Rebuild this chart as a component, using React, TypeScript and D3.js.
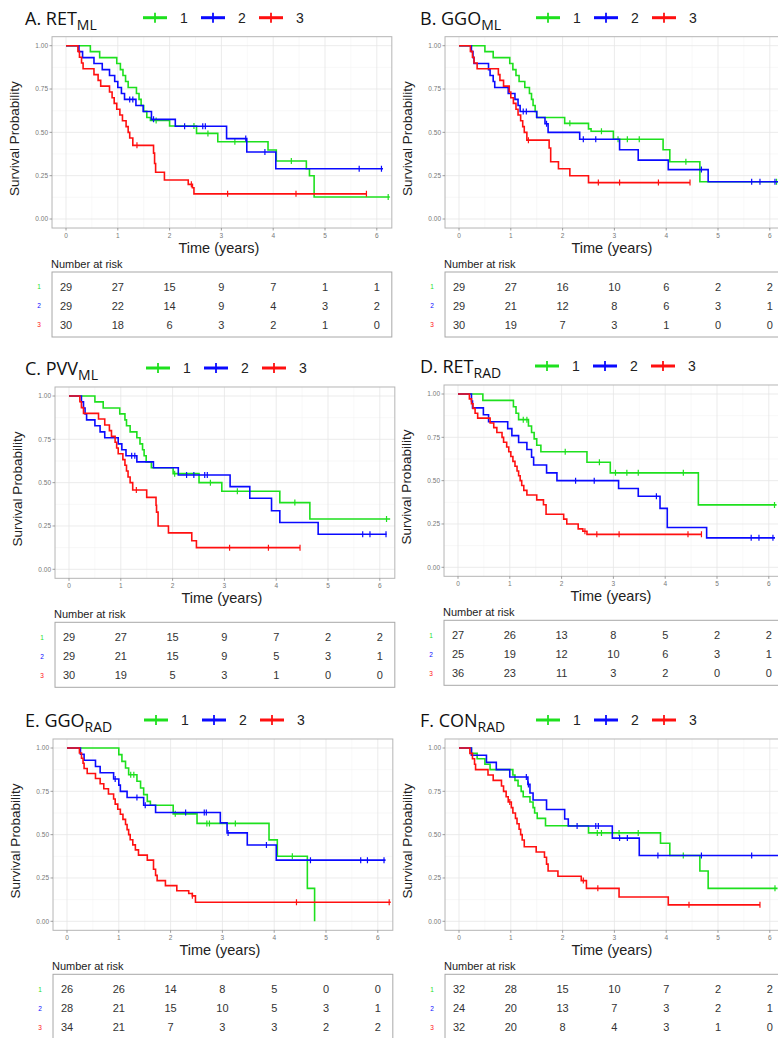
import * as d3 from 'd3';

type Step = [number, number];

const groupLabels = ['1', '2', '3'];
const groupColors = ['#1ee01e', '#0a0aff', '#ff1010'];
const timeTicks = [0, 1, 2, 3, 4, 5, 6];
const survTicks = [0, 0.25, 0.5, 0.75, 1];
const survTickLabels = ['0.00', '0.25', '0.50', '0.75', '1.00'];

const panelTitles = ['A. RET', 'B. GGO', 'C. PVV', 'D. RET', 'E. GGO', 'F. CON'];
const panelSubs = ['ML', 'ML', 'ML', 'RAD', 'RAD', 'RAD'];

// A. RET (ML)
const retMlSteps: Step[][] = [
  [[0, 1], [0.47, 0.966], [0.65, 0.931], [0.98, 0.897], [1.05, 0.862], [1.1, 0.828], [1.15, 0.793], [1.2, 0.759], [1.36, 0.724], [1.41, 0.69], [1.45, 0.655], [1.5, 0.621], [1.56, 0.586], [1.63, 0.569], [2.0, 0.537], [2.52, 0.494], [2.93, 0.446], [3.9, 0.398], [4.06, 0.335], [4.64, 0.29], [4.7, 0.25], [4.79, 0.127]],
  [[0, 1], [0.25, 0.966], [0.32, 0.931], [0.54, 0.897], [0.7, 0.862], [0.84, 0.828], [0.94, 0.793], [1.0, 0.759], [1.07, 0.724], [1.13, 0.69], [1.35, 0.655], [1.49, 0.62], [1.65, 0.575], [2.11, 0.535], [3.1, 0.464], [3.49, 0.387], [4.05, 0.29]],
  [[0, 1], [0.23, 0.967], [0.26, 0.933], [0.3, 0.9], [0.33, 0.867], [0.54, 0.833], [0.62, 0.8], [0.67, 0.767], [0.84, 0.733], [0.89, 0.7], [0.93, 0.667], [0.98, 0.633], [1.04, 0.6], [1.09, 0.567], [1.16, 0.533], [1.2, 0.5], [1.23, 0.467], [1.29, 0.425], [1.69, 0.38], [1.71, 0.32], [1.73, 0.27], [1.9, 0.225], [2.36, 0.2], [2.44, 0.18], [2.47, 0.145]],
];
const retMlCensor = [
  [1.74, 2.47, 2.74, 3.26, 4.35, 6.22],
  [1.23, 1.29, 1.69, 2.29, 2.64, 2.69, 3.47, 3.84, 5.66, 6.09],
  [1.37, 2.42, 3.12, 4.44, 5.8],
];
const retMlEnd = [6.25, 6.12, 5.8];
const retMlRisk = [[29, 27, 15, 9, 7, 1, 1], [29, 22, 14, 9, 4, 3, 2], [30, 18, 6, 3, 2, 1, 0]];

// B. GGO (ML)
const ggoMlSteps: Step[][] = [
  [[0, 1], [0.5, 0.966], [0.66, 0.931], [0.98, 0.897], [1.04, 0.862], [1.1, 0.828], [1.16, 0.793], [1.27, 0.759], [1.36, 0.724], [1.4, 0.69], [1.43, 0.655], [1.47, 0.62], [1.5, 0.586], [2.04, 0.552], [2.5, 0.52], [2.55, 0.506], [2.98, 0.46], [3.94, 0.4], [4.07, 0.33], [4.65, 0.215]],
  [[0, 1], [0.24, 0.966], [0.27, 0.931], [0.29, 0.897], [0.57, 0.862], [0.6, 0.828], [0.66, 0.793], [0.69, 0.759], [0.95, 0.724], [1.08, 0.69], [1.14, 0.655], [1.18, 0.62], [1.5, 0.586], [1.66, 0.55], [1.72, 0.5], [2.33, 0.46], [3.1, 0.4], [3.46, 0.34], [4.04, 0.285], [4.81, 0.215]],
  [[0, 1], [0.22, 0.967], [0.26, 0.933], [0.29, 0.9], [0.35, 0.867], [0.76, 0.833], [0.79, 0.8], [0.86, 0.767], [0.97, 0.733], [1.0, 0.7], [1.05, 0.667], [1.1, 0.633], [1.14, 0.6], [1.19, 0.567], [1.23, 0.533], [1.26, 0.5], [1.31, 0.455], [1.74, 0.41], [1.77, 0.33], [1.92, 0.29], [2.14, 0.25], [2.5, 0.21]],
];
const ggoMlCensor = [
  [2.14, 2.75, 3.07, 3.25, 3.48, 4.38, 6.13],
  [1.24, 1.3, 1.69, 2.4, 2.64, 4.68, 5.65, 5.81, 6.1],
  [1.34, 2.69, 3.1, 3.85, 4.46],
];
const ggoMlEnd = [6.16, 6.16, 4.46];
const ggoMlRisk = [[29, 27, 16, 10, 6, 2, 2], [29, 21, 12, 8, 6, 3, 1], [30, 19, 7, 3, 1, 0, 0]];

// C. PVV (ML)
const pvvMlSteps: Step[][] = [
  [[0, 1], [0.5, 0.966], [0.66, 0.931], [0.98, 0.897], [1.08, 0.862], [1.11, 0.828], [1.18, 0.793], [1.31, 0.759], [1.37, 0.724], [1.42, 0.69], [1.45, 0.655], [1.49, 0.62], [1.59, 0.586], [2.01, 0.552], [2.51, 0.5], [2.95, 0.45], [4.07, 0.385], [4.65, 0.29]],
  [[0, 1], [0.24, 0.966], [0.28, 0.931], [0.31, 0.897], [0.34, 0.862], [0.5, 0.828], [0.6, 0.793], [0.69, 0.759], [0.95, 0.724], [1.02, 0.69], [1.1, 0.655], [1.31, 0.62], [1.63, 0.586], [2.11, 0.544], [3.11, 0.477], [3.49, 0.41], [3.91, 0.338], [4.07, 0.27], [4.81, 0.202]],
  [[0, 1], [0.21, 0.967], [0.24, 0.933], [0.28, 0.9], [0.57, 0.867], [0.69, 0.833], [0.78, 0.8], [0.82, 0.767], [0.89, 0.733], [0.92, 0.7], [0.95, 0.667], [1.04, 0.633], [1.08, 0.6], [1.11, 0.567], [1.14, 0.533], [1.18, 0.5], [1.23, 0.458], [1.5, 0.415], [1.68, 0.37], [1.69, 0.33], [1.72, 0.25], [1.92, 0.21], [2.37, 0.165], [2.46, 0.125]],
];
const pvvMlCensor = [
  [2.04, 2.73, 3.25, 4.36, 6.13],
  [1.21, 1.27, 2.27, 2.41, 2.62, 2.67, 5.67, 5.81, 6.12],
  [1.3, 3.1, 3.85, 4.46],
];
const pvvMlEnd = [6.2, 6.13, 4.46];
const pvvMlRisk = [[29, 27, 15, 9, 7, 2, 2], [29, 21, 15, 9, 5, 3, 1], [30, 19, 5, 3, 1, 0, 0]];

// D. RET (RAD)
const retRadSteps: Step[][] = [
  [[0, 1], [0.48, 0.963], [1.07, 0.926], [1.12, 0.889], [1.17, 0.852], [1.36, 0.815], [1.42, 0.778], [1.47, 0.741], [1.52, 0.704], [1.6, 0.667], [2.49, 0.606], [2.94, 0.545], [4.64, 0.36]],
  [[0, 1], [0.26, 0.96], [0.28, 0.92], [0.49, 0.88], [0.59, 0.84], [0.96, 0.8], [1.04, 0.76], [1.17, 0.72], [1.33, 0.68], [1.42, 0.635], [1.46, 0.59], [1.71, 0.545], [1.91, 0.5], [3.1, 0.455], [3.48, 0.41], [3.9, 0.34], [4.04, 0.23], [4.8, 0.17]],
  [[0, 1], [0.22, 0.972], [0.26, 0.944], [0.29, 0.917], [0.33, 0.889], [0.38, 0.861], [0.62, 0.833], [0.69, 0.806], [0.75, 0.778], [0.85, 0.75], [0.88, 0.722], [0.94, 0.694], [0.98, 0.667], [1.02, 0.639], [1.06, 0.611], [1.1, 0.583], [1.14, 0.556], [1.17, 0.528], [1.2, 0.5], [1.23, 0.472], [1.27, 0.444], [1.33, 0.417], [1.52, 0.389], [1.65, 0.361], [1.7, 0.306], [2.04, 0.278], [2.1, 0.25], [2.32, 0.222], [2.41, 0.208], [2.49, 0.19]],
];
const retRadCensor = [
  [1.26, 1.33, 2.07, 2.73, 3.04, 3.26, 3.48, 4.35, 6.11],
  [2.27, 2.63, 3.83, 5.66, 5.81, 6.08],
  [2.45, 2.68, 3.11, 4.44, 4.7],
];
const retRadEnd = [6.15, 6.12, 4.7];
const retRadRisk = [[27, 26, 13, 8, 5, 2, 2], [25, 19, 12, 10, 6, 3, 1], [36, 23, 11, 3, 2, 0, 0]];

// E. GGO (RAD)
const ggoRadSteps: Step[][] = [
  [[0, 1], [1.0, 0.962], [1.06, 0.923], [1.13, 0.885], [1.19, 0.846], [1.35, 0.808], [1.42, 0.769], [1.48, 0.731], [1.55, 0.692], [1.61, 0.67], [2.05, 0.62], [2.51, 0.565], [3.9, 0.47], [4.06, 0.375], [4.64, 0.19], [4.78, 0]],
  [[0, 1], [0.26, 0.964], [0.33, 0.929], [0.55, 0.893], [0.64, 0.857], [0.9, 0.821], [1.0, 0.786], [1.03, 0.75], [1.16, 0.714], [1.48, 0.67], [1.71, 0.628], [2.96, 0.568], [3.09, 0.51], [3.48, 0.44], [4.04, 0.353]],
  [[0, 1], [0.24, 0.971], [0.28, 0.941], [0.31, 0.912], [0.33, 0.882], [0.39, 0.853], [0.55, 0.824], [0.64, 0.794], [0.71, 0.765], [0.8, 0.735], [0.9, 0.706], [0.93, 0.676], [0.98, 0.647], [1.03, 0.618], [1.08, 0.588], [1.13, 0.559], [1.16, 0.529], [1.19, 0.5], [1.22, 0.471], [1.27, 0.441], [1.32, 0.412], [1.38, 0.382], [1.55, 0.353], [1.67, 0.3], [1.71, 0.265], [1.74, 0.235], [1.9, 0.206], [2.12, 0.176], [2.35, 0.16], [2.42, 0.147], [2.48, 0.11]],
];
const ggoRadCensor = [
  [1.23, 1.29, 2.09, 2.7, 2.75, 3.25, 4.35],
  [0.93, 1.35, 1.51, 2.29, 2.65, 2.69, 3.11, 3.85, 4.7, 5.67, 5.8, 6.12],
  [2.42, 4.43, 6.22],
];
const ggoRadEnd = [4.78, 6.15, 6.25];
const ggoRadRisk = [[26, 26, 14, 8, 5, 0, 0], [28, 21, 15, 10, 5, 3, 1], [34, 21, 7, 3, 3, 2, 2]];

// F. CON (RAD)
const conRadSteps: Step[][] = [
  [[0, 1], [0.24, 0.969], [0.35, 0.938], [0.5, 0.906], [0.6, 0.875], [1.04, 0.844], [1.08, 0.813], [1.14, 0.781], [1.2, 0.75], [1.24, 0.719], [1.37, 0.688], [1.43, 0.656], [1.46, 0.625], [1.51, 0.594], [1.67, 0.551], [2.5, 0.51], [3.89, 0.45], [4.07, 0.38], [4.65, 0.29], [4.81, 0.19]],
  [[0, 1], [0.24, 0.958], [0.53, 0.917], [0.72, 0.875], [0.98, 0.833], [1.33, 0.79], [1.37, 0.74], [1.43, 0.7], [1.69, 0.645], [2.04, 0.59], [2.11, 0.55], [2.96, 0.48], [3.48, 0.38]],
  [[0, 1], [0.21, 0.969], [0.26, 0.938], [0.3, 0.906], [0.32, 0.875], [0.56, 0.844], [0.66, 0.813], [0.82, 0.781], [0.86, 0.75], [0.91, 0.719], [0.95, 0.688], [1.01, 0.656], [1.04, 0.625], [1.09, 0.594], [1.12, 0.563], [1.16, 0.531], [1.19, 0.5], [1.22, 0.469], [1.26, 0.43], [1.49, 0.4], [1.65, 0.37], [1.69, 0.33], [1.72, 0.29], [1.91, 0.26], [2.36, 0.235], [2.46, 0.19], [3.09, 0.14], [4.04, 0.095]],
];
const conRadCensor = [
  [2.67, 2.75, 3.09, 3.46, 4.33, 6.1],
  [1.3, 1.34, 2.28, 2.64, 2.69, 3.1, 3.25, 3.84, 4.68, 5.65],
  [0.98, 2.4, 2.68, 4.44, 5.81],
];
const conRadEnd = [6.15, 6.2, 5.81];
const conRadRisk = [[32, 28, 15, 10, 7, 2, 2], [24, 20, 13, 7, 3, 2, 1], [32, 20, 8, 4, 3, 1, 0]];

const panelSteps = [retMlSteps, ggoMlSteps, pvvMlSteps, retRadSteps, ggoRadSteps, conRadSteps];
const panelCensor = [retMlCensor, ggoMlCensor, pvvMlCensor, retRadCensor, ggoRadCensor, conRadCensor];
const panelEnd = [retMlEnd, ggoMlEnd, pvvMlEnd, retRadEnd, ggoRadEnd, conRadEnd];
const panelRisk = [retMlRisk, ggoMlRisk, pvvMlRisk, retRadRisk, ggoRadRisk, conRadRisk];

// pixel position of t=0 and of S=1 for each panel
const panelX0 = [66, 459, 69, 458, 67, 459];
const panelY1 = [45.7, 45.7, 396, 394, 748, 748];

const YEAR = 51.8;
const PLOT_H = 173.3;
const sans = '"Liberation Sans", Arial, sans-serif';

function survivalAt(steps: Step[], t: number) {
  let s = 1;
  for (const st of steps) if (st[0] <= t) s = st[1];
  return s;
}

function Panel({ i }: { i: number }) {
  const x0 = panelX0[i];
  const y1 = panelY1[i];
  const x = d3.scaleLinear().domain([0, 6]).range([x0, x0 + 6 * YEAR]);
  const y = d3.scaleLinear().domain([0, 1]).range([y1 + PLOT_H, y1]);
  const left = x(-0.27);
  const right = x(6.29);
  const top = y(1.052);
  const bottom = y(-0.052);
  const yZero = y(0);
  const minorX = d3.range(0.5, 6.3, 1);
  const minorY = [0.125, 0.375, 0.625, 0.875];
  const line = d3
    .line<Step>()
    .x((d) => x(d[0]))
    .y((d) => y(d[1]))
    .curve(d3.curveStepAfter);
  const clipId = `clip-${i}`;
  const legX = x0 + 77;

  return (
    <g>
      <defs>
        <clipPath id={clipId}>
          <rect x={left} y={top} width={right - left} height={bottom - top} />
        </clipPath>
      </defs>

      {/* title */}
      <text x={i % 2 === 0 ? 25 : 420} y={y1 - 21} fontFamily='"Open Sans", sans-serif' fontSize={18} fill="#111">
        {panelTitles[i]}
        <tspan fontSize={14} dy={5}>{panelSubs[i]}</tspan>
      </text>

      {/* legend */}
      {groupLabels.map((g, k) => {
        const sx = legX + k * 58;
        const ly = y1 - 28;
        return (
          <g key={g}>
            <line x1={sx} x2={sx + 24} y1={ly} y2={ly} stroke={groupColors[k]} strokeWidth={3} />
            <line x1={sx + 12} x2={sx + 12} y1={ly - 5} y2={ly + 5} stroke={groupColors[k]} strokeWidth={1.8} />
            <text x={sx + 37} y={ly + 5} fontFamily={sans} fontSize={14} fill="#222">{g}</text>
          </g>
        );
      })}

      {/* grid */}
      <rect x={left} y={top} width={right - left} height={bottom - top} fill="#fff" />
      {minorX.map((t) => (
        <line key={'mx' + t} x1={x(t)} x2={x(t)} y1={top} y2={bottom} stroke="#f3f3f3" strokeWidth={0.6} />
      ))}
      {minorY.map((s) => (
        <line key={'my' + s} x1={left} x2={right} y1={y(s)} y2={y(s)} stroke="#f3f3f3" strokeWidth={0.6} />
      ))}
      {timeTicks.map((t) => (
        <line key={'gx' + t} x1={x(t)} x2={x(t)} y1={top} y2={bottom} stroke="#e6e6e6" strokeWidth={0.8} />
      ))}
      {survTicks.map((s) => (
        <line key={'gy' + s} x1={left} x2={right} y1={y(s)} y2={y(s)} stroke="#e6e6e6" strokeWidth={0.8} />
      ))}

      {/* curves */}
      <g clipPath={`url(#${clipId})`}>
        {panelSteps[i].map((steps, k) => {
          const pts: Step[] = [...steps, [panelEnd[i][k], steps[steps.length - 1][1]]];
          return (
            <g key={k}>
              <path d={line(pts) || ''} fill="none" stroke={groupColors[k]} strokeWidth={1.6} />
              {panelCensor[i][k].map((t, m) => {
                const cy = y(survivalAt(steps, t));
                return (
                  <line key={m} x1={x(t)} x2={x(t)} y1={cy - 3} y2={cy + 3} stroke={groupColors[k]} strokeWidth={1.2} />
                );
              })}
            </g>
          );
        })}
      </g>

      <rect x={left} y={top} width={right - left} height={bottom - top} fill="none" stroke="#b5b5b5" strokeWidth={1} />

      {/* axes */}
      {survTicks.map((s, k) => (
        <g key={'ty' + s}>
          <line x1={left - 2.5} x2={left} y1={y(s)} y2={y(s)} stroke="#888" strokeWidth={0.8} />
          <text x={left - 4} y={y(s)} dy="0.35em" textAnchor="end" fontFamily={sans} fontSize={6.5} fill="#777">
            {survTickLabels[k]}
          </text>
        </g>
      ))}
      {timeTicks.map((t) => (
        <g key={'tx' + t}>
          <line x1={x(t)} x2={x(t)} y1={bottom} y2={bottom + 2.5} stroke="#888" strokeWidth={0.8} />
          <text x={x(t)} y={bottom + 10} textAnchor="middle" fontFamily={sans} fontSize={6.5} fill="#777">
            {t}
          </text>
        </g>
      ))}
      <text
        transform={`translate(${x0 - 47},${y1 + 93}) rotate(-90)`}
        textAnchor="middle"
        fontFamily={sans}
        fontSize={13.5}
        fill="#222"
      >
        Survival Probability
      </text>
      <text x={(left + right) / 2 - 3} y={yZero + 34} textAnchor="middle" fontFamily={sans} fontSize={14.5} fill="#222">
        Time (years)
      </text>

      {/* risk table */}
      <text x={left - 1} y={yZero + 49} fontFamily={sans} fontSize={11} fill="#222">
        Number at risk
      </text>
      <rect x={left} y={yZero + 53} width={right - left} height={65} fill="none" stroke="#a8a8a8" strokeWidth={1} />
      {panelRisk[i].map((row, k) => {
        const ry = yZero + 68 + k * 19;
        return (
          <g key={'r' + k}>
            <text x={left - 13} y={ry} dy="0.35em" textAnchor="middle" fontFamily={sans} fontSize={6.5} fill={groupColors[k]}>
              {groupLabels[k]}
            </text>
            {row.map((n, m) => (
              <text key={m} x={x(timeTicks[m])} y={ry} dy="0.35em" textAnchor="middle" fontFamily={sans} fontSize={11} fill="#333">
                {n}
              </text>
            ))}
          </g>
        );
      })}
    </g>
  );
}

export default function App() {
  return (
    <svg
      width={778}
      height={1038}
      viewBox="0 0 778 1038"
      style={{ position: 'absolute', left: 0, top: 0, background: '#fff' }}
    >
      <rect x={0} y={0} width={778} height={1038} fill="#fff" />
      {panelTitles.map((_, i) => (
        <Panel key={i} i={i} />
      ))}
    </svg>
  );
}
